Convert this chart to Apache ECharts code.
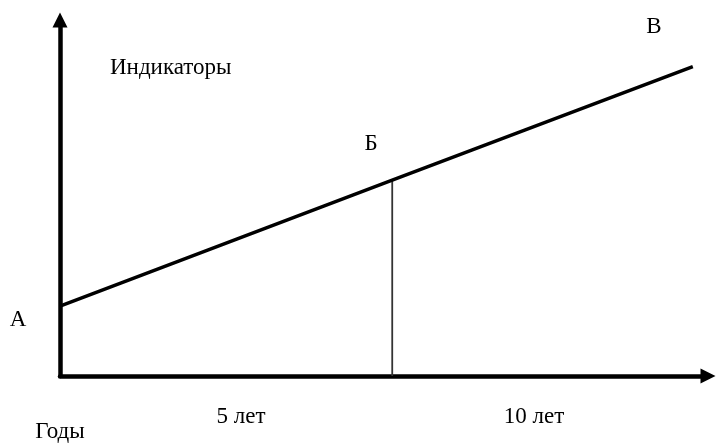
<!DOCTYPE html>
<html>
<head>
<meta charset="utf-8">
<script src="https://cdn.jsdelivr.net/npm/echarts@6/dist/echarts.min.js"></script>
<style>
  html, body { margin: 0; padding: 0; background: #fff; }
  #main { width: 716px; height: 443px; }
</style>
</head>
<body>
<div id="main"></div>
<script>
// точки линии: А (старт), Б (5 лет), В (10 лет)
var pointNames = ['А', 'Б', 'В'];
var pointYears = [0, 5.25, 10];
var pointValues = [19.6, 55, 86.9];
// подписи оси X (годы) и их места на оси
var xTickLabels = ['5 лет', '10 лет'];
var xTickValues = [2.86, 7.49];
var xAxisName = 'Годы';
var yAxisName = 'Индикаторы';

var myChart = echarts.init(document.getElementById('main'));

var lineData = [];
for (var i = 0; i < pointYears.length; i++) {
    lineData.push([pointYears[i], pointValues[i]]);
}
// вертикальная линия из точки Б вниз к оси
var dropData = [[pointYears[1], 0], [pointYears[1], pointValues[1]]];

var labelOffsets = [[-42, 14], [-21, -36], [-39, -40]];
var labelData = lineData.map(function (p, i) {
    return {
        value: p,
        name: pointNames[i],
        label: { offset: labelOffsets[i] }
    };
});

var serif = '"Liberation Serif", "Times New Roman", serif';

var option = {
    animation: false,
    grid: { left: 60, right: 8, top: 20, bottom: 65 },
    xAxis: {
        type: 'value',
        min: 0,
        max: 10.24,
        name: xAxisName,
        nameLocation: 'start',
        nameGap: 0,
        nameTextStyle: {
            fontFamily: serif, fontSize: 23, color: '#000',
            align: 'center', verticalAlign: 'top', padding: [44, 0, 0, 0]
        },
        axisLine: {
            onZero: false,
            symbol: ['none', 'triangle'],
            symbolSize: [15, 15],
            lineStyle: { color: '#000', width: 4.5 }
        },
        axisTick: { show: false },
        splitLine: { show: false },
        axisLabel: {
            customValues: xTickValues,
            margin: 29,
            fontFamily: serif, fontSize: 23, color: '#000',
            formatter: function (v) {
                var k = xTickValues.indexOf(v);
                return k >= 0 ? xTickLabels[k] : '';
            }
        }
    },
    yAxis: {
        type: 'value',
        min: 0,
        max: 100,
        name: yAxisName,
        nameLocation: 'end',
        nameGap: -48,
        nameTextStyle: {
            fontFamily: serif, fontSize: 23, color: '#000',
            align: 'left', verticalAlign: 'middle', padding: [0, 0, 0, 50]
        },
        axisLine: {
            show: true,
            symbol: ['none', 'triangle'],
            symbolSize: [15, 15],
            lineStyle: { color: '#000', width: 4.5 }
        },
        axisTick: { show: false },
        axisLabel: { show: false },
        splitLine: { show: false }
    },
    series: [
        {
            type: 'line',
            data: lineData,
            showSymbol: false,
            lineStyle: { color: '#000', width: 3.5 },
            z: 3
        },
        {
            type: 'line',
            data: dropData,
            showSymbol: false,
            lineStyle: { color: '#333', width: 1.8 },
            z: 2
        },
        {
            type: 'scatter',
            data: labelData,
            symbolSize: 0,
            itemStyle: { opacity: 1 },
            label: {
                show: true,
                position: 'inside',
                formatter: '{b}',
                fontFamily: serif, fontSize: 23, color: '#000',
                textBorderWidth: 0
            },
            z: 4
        }
    ]
};

myChart.setOption(option);
</script>
</body>
</html>
